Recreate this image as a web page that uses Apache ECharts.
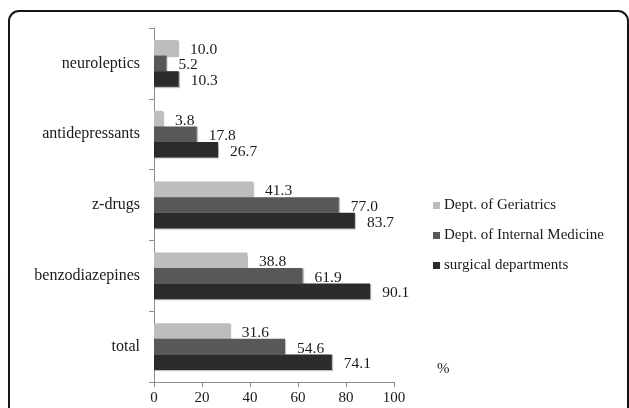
<!DOCTYPE html>
<html>
<head>
<meta charset="utf-8">
<script src="https://cdn.jsdelivr.net/npm/echarts@6/dist/echarts.min.js"></script>
<style>
  html, body { margin: 0; padding: 0; background: #fff; }
  #chart { width: 629px; height: 408px; }
</style>
</head>
<body>
<div id="chart"></div>
<script>
// Drug classes, listed bottom to top on the category axis
const categories = ['total', 'benzodiazepines', 'z-drugs', 'antidepressants', 'neuroleptics'];

// Share of patients (%) per department
const geriatrics = [31.6, 38.8, 41.3, 3.8, 10.0];
const internalMedicine = [54.6, 61.9, 77.0, 17.8, 5.2];
const surgical = [74.1, 90.1, 83.7, 26.7, 10.3];

const xTicks = [0, 20, 40, 60, 80, 100];

const serif = '"Liberation Serif", "DejaVu Serif", serif';

const chart = echarts.init(document.getElementById('chart'));

function barSeries(name, data, color) {
  return {
    name: name,
    type: 'bar',
    data: data,
    barWidth: 15.6,
    barGap: '0%',
    itemStyle: { color: color, shadowColor: 'rgba(0,0,0,0.25)', shadowBlur: 1, shadowOffsetX: 1, shadowOffsetY: 1 },
    label: {
      show: true,
      position: 'right',
      distance: 12,
      offset: [0, 2],
      color: '#1a1a1a',
      fontFamily: serif,
      fontSize: 15.5,
      formatter: p => p.value.toFixed(1)
    }
  };
}

chart.setOption({
  animation: false,
  backgroundColor: '#fff',
  grid: { left: 154, right: 235, top: 28, bottom: 26, containLabel: false },
  xAxis: {
    type: 'value',
    min: xTicks[0],
    max: xTicks[xTicks.length - 1],
    interval: 20,
    axisLine: { show: true, lineStyle: { color: '#8c8c8c', width: 1 } },
    axisTick: { show: true, length: 5, lineStyle: { color: '#8c8c8c' } },
    splitLine: { show: false },
    axisLabel: { color: '#1a1a1a', fontFamily: serif, fontSize: 15, margin: 9 }
  },
  yAxis: {
    type: 'category',
    data: categories,
    axisLine: { show: true, lineStyle: { color: '#8c8c8c', width: 1 } },
    axisTick: { show: true, length: 5, lineStyle: { color: '#8c8c8c' } },
    axisLabel: { color: '#1a1a1a', fontFamily: serif, fontSize: 16, margin: 14 }
  },
  legend: {
    orient: 'vertical',
    left: 428,
    top: 193,
    itemGap: 15,
    icon: 'rect',
    itemWidth: 7,
    itemHeight: 7,
    data: ['Dept. of Geriatrics', 'Dept. of Internal Medicine', 'surgical departments'],
    textStyle: { color: '#1a1a1a', fontFamily: serif, fontSize: 15, padding: [0, 0, 0, -1] }
  },
  graphic: [
    {
      type: 'rect',
      shape: { x: 9, y: 11, width: 619, height: 420, r: 10 },
      style: { fill: 'none', stroke: '#151515', lineWidth: 2 },
      silent: true
    },
    {
      type: 'text',
      left: 437,
      top: 362,
      style: { text: '%', fill: '#1a1a1a', font: '15px ' + serif }
    }
  ],
  series: [
    barSeries('Dept. of Geriatrics', geriatrics, '#bdbdbd'),
    barSeries('Dept. of Internal Medicine', internalMedicine, '#585858'),
    barSeries('surgical departments', surgical, '#2b2b2b')
  ]
});
</script>
</body>
</html>
